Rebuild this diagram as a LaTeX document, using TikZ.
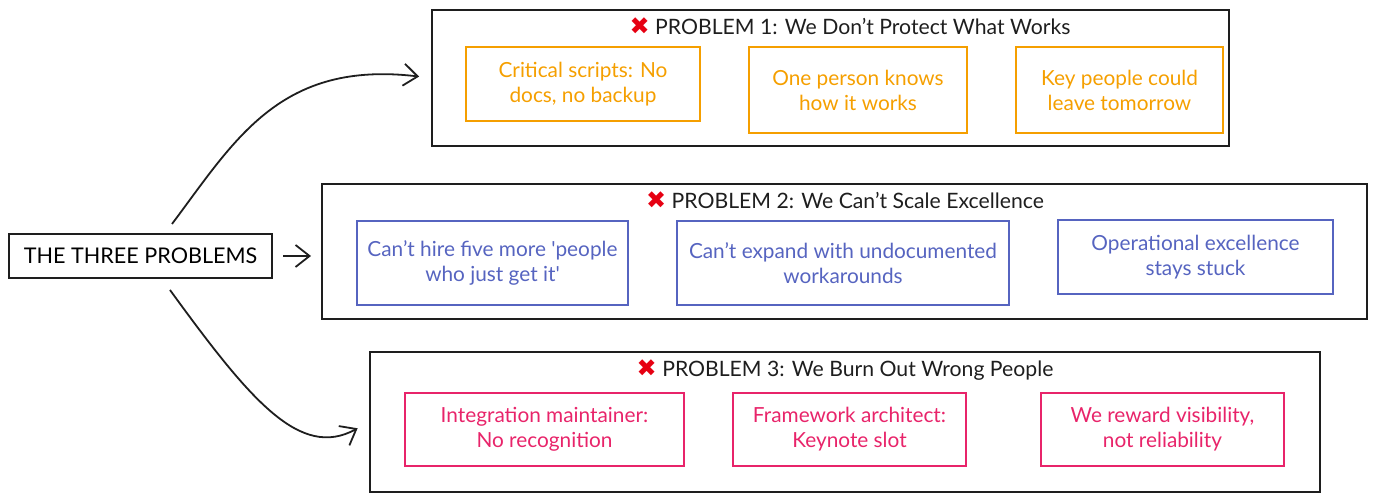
\documentclass[tikz,border=0pt]{standalone}
\usepackage{fontspec}
\usepackage{tikz}
\usepackage{xcolor}
\usetikzlibrary{arrows.meta}
\setmainfont{Lato}
\newfontfamily\symfont{DejaVu Sans}
\definecolor{inkblack}{HTML}{1E1E1E}
\definecolor{xred}{HTML}{E60012}
\definecolor{probone}{HTML}{F59F00}
\definecolor{probtwo}{HTML}{5664C0}
\definecolor{probthree}{HTML}{E8246A}
\newcommand{\xmk}{{\symfont\fontsize{12}{12}\selectfont\color{xred}\textbf{✖}}}

\begin{document}
\begin{tikzpicture}[x=0.5pt, y=-0.5pt,
                    outer/.style={draw=inkblack, line width=1pt, inner sep=0pt},
                    ttl/.style={text=inkblack, font=\fontsize{10.6}{12}\selectfont},
                    item/.style={line width=0.9pt, align=center, inner sep=0pt,
                                 font=\fontsize{10.4}{12.5}\selectfont},
                    arr/.style={draw=inkblack, line width=0.9pt,
                                -{Straight Barb[length=7pt, width=11pt]}}]
                    \useasboundingbox (0,0) rectangle (1377,501);
                    % left label
                    \node[outer, line width=1.3pt, minimum width=131.5pt, minimum height=22pt,
                          font=\fontsize{10.8}{12}\selectfont] (main) at (140.5,256) {THE THREE PROBLEMS};
                    % problem 1
                    \node[outer, minimum width=398.5pt, minimum height=68pt] (p1) at (830.5,78) {};
                    \node[ttl] (t1) at (850,26) {\xmk\ PROBLEM 1: We Don't Protect What Works};
                    \node[item, draw=probone, text=probone, minimum width=117pt, minimum height=37pt] (p1a) at (583,84)
                        {Critical scripts: No\\docs, no backup};
                    \node[item, draw=probone, text=probone, minimum width=109pt, minimum height=43pt] (p1b) at (858,90)
                        {One person knows\\how it works};
                    \node[item, draw=probone, text=probone, minimum width=103.5pt, minimum height=43pt] (p1c) at (1119.5,90)
                        {Key people could\\leave tomorrow};
                    % problem 2
                    \node[outer, minimum width=522.5pt, minimum height=67.5pt] (p2) at (844.5,251.5) {};
                    \node[ttl] (t2) at (845,200) {\xmk\ PROBLEM 2: We Can't Scale Excellence};
                    \node[item, draw=probtwo, text=probtwo, minimum width=135.5pt, minimum height=42pt] (p2a) at (492.5,263)
                        {Can't hire five more \textquotesingle people\\who just get it\textquotesingle};
                    \node[item, draw=probtwo, text=probtwo, minimum width=166pt, minimum height=42pt] (p2b) at (843,263)
                        {Can't expand with undocumented\\workarounds};
                    \node[item, draw=probtwo, text=probtwo, minimum width=137.5pt, minimum height=37pt] (p2c) at (1195.5,257)
                        {Operational excellence\\stays stuck};
                    % problem 3
                    \node[outer, minimum width=475pt, minimum height=70pt] (p3) at (845,422) {};
                    \node[ttl] (t3) at (845,370) {\xmk\ PROBLEM 3: We Burn Out Wrong People};
                    \node[item, draw=probthree, text=probthree, minimum width=139.5pt, minimum height=36.5pt] (p3a) at (544.5,429.5)
                        {Integration maintainer:\\No recognition};
                    \node[item, draw=probthree, text=probthree, minimum width=116.5pt, minimum height=36.5pt] (p3b) at (849.5,429.5)
                        {Framework architect:\\Keynote slot};
                    \node[item, draw=probthree, text=probthree, minimum width=121.5pt, minimum height=36.5pt] (p3c) at (1162.5,429.5)
                        {We reward visibility,\\not reliability};
                    % connectors
                    \coordinate (s1) at (172,224);
                    \coordinate (s3) at (170,290);
                    \draw[arr, shorten >=6pt] (s1) .. controls (235,140) and (280,60) .. (p1.west);
                    \draw[arr, shorten <=5pt, shorten >=5pt] (main.east) -- (main.east -| p2.west);
                    \draw[arr, shorten >=6.5pt] (s3) .. controls (250,400) and (300,460) .. (p3.west);
                \end{tikzpicture}
\end{document}
